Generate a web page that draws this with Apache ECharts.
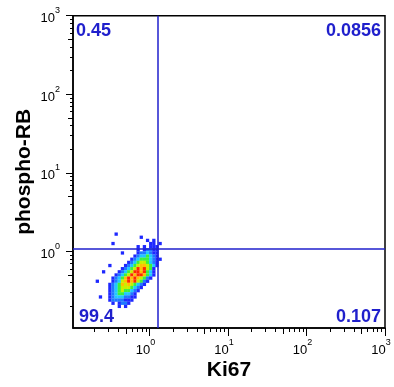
<!DOCTYPE html>
<html>
<head>
<meta charset="utf-8">
<script src="https://cdn.jsdelivr.net/npm/echarts@6/dist/echarts.min.js"></script>
<style>
  html, body { margin: 0; padding: 0; background: #fff; }
  #chart { width: 394px; height: 387px; }
</style>
</head>
<body>
<div id="chart"></div>
<script>
// axis range, in decades (log10 units)
const axisMinLog = -0.975;
const axisMaxLog = 3;
const decades = [0, 1, 2, 3];

// quadrant gates (linear units) and quadrant frequencies
const gateKi67 = 1.28;
const gatePRB = 1.09;
const quadUL = '0.45';
const quadUR = '0.0856';
const quadLL = '99.4';
const quadLR = '0.107';

// density grid: first cell (log Ki67, log pRB) and cell step in decades
const gridOriginX = -0.665;
const gridOriginY = 0.22;
const gridStep = 0.04;
// one string per row, top to bottom; '.' = empty, 1 (sparse) .. 7 (densest)
const densityRows = [
  '......1................',
  '..............1........',
  '................1.1....',
  '.....1...........11.1..',
  '.............1.1.111...',
  '.............1.12211...',
  '........1....1223211...',
  '............12334321...',
  '...........1234443211..',
  '..........1234554321...',
  '....1....12345665431...',
  '........12345767541....',
  '..1....123457767431....',
  '......1234576776431....',
  '.....1234676765421.....',
  '1....123567675421......',
  '....123465654321.......',
  '....12345554321........',
  '....1234544321.........',
  '....123443321..........',
  '.1..123332211..........',
  '....12222111...........',
  '.....1.1221............',
  '.......1.1.............'
];

const densityColors = ['#1e28ff', '#1e78ff', '#1ec8ff', '#3cf03c', '#c8f000', '#ffc000', '#ff2800'];
const gateColor = '#1f1fcc';

const cells = [];
densityRows.forEach((row, r) => {
  for (let c = 0; c < row.length; c++) {
    if (row[c] === '.') continue;
    cells.push([gridOriginX + c * gridStep, gridOriginY - r * gridStep, +row[c]]);
  }
});

// log tick positions: 5s get a medium tick, the other mantissas a short one
const midTicks = [];
const minorTicks = [];
for (let k = -1; k <= 2; k++) {
  [2, 3, 4, 6, 7, 8, 9].forEach(m => {
    const v = k + Math.log10(m);
    if (v >= axisMinLog) minorTicks.push(v);
  });
  const v5 = k + Math.log10(5);
  if (v5 >= axisMinLog) midTicks.push(v5);
}

const labelRich = {
  b: { fontSize: 13, fontFamily: 'Liberation Sans', color: '#000', lineHeight: 19, verticalAlign: 'bottom' },
  s: { fontSize: 9, fontFamily: 'Liberation Sans', color: '#000', lineHeight: 19, verticalAlign: 'top' }
};
const nameStyle = { fontFamily: 'Liberation Sans', fontWeight: 'bold', fontSize: 21, color: '#000' };

function tickAxis(position, values, len) {
  return {
    type: 'value', min: axisMinLog, max: axisMaxLog, position: position,
    axisLine: { show: false, onZero: false },
    splitLine: { show: false },
    axisLabel: { show: false },
    axisTick: { show: true, customValues: values, length: len, lineStyle: { color: '#000', width: 1 } }
  };
}

const chart = echarts.init(document.getElementById('chart'));
chart.setOption({
  animation: false,
  grid: {
    left: 73, right: 9, top: 15.7, bottom: 59,
    show: true, borderColor: '#000', borderWidth: 1.5
  },
  xAxis: [
    {
      type: 'value', min: axisMinLog, max: axisMaxLog, position: 'bottom',
      name: 'Ki67', nameLocation: 'middle', nameGap: 32, nameMoveOverlap: false, nameTextStyle: nameStyle,
      axisLine: { show: true, onZero: false, lineStyle: { color: '#000', width: 1.5 } },
      axisTick: { customValues: decades, length: 8, lineStyle: { color: '#000', width: 1 } },
      axisLabel: {
        customValues: decades, margin: 10, padding: [0, 8, 0, 0],
        formatter: v => '{b|10}{s|' + v + '}', rich: labelRich
      },
      splitLine: { show: false }
    },
    tickAxis('bottom', midTicks, 6),
    tickAxis('bottom', minorTicks, 4)
  ],
  yAxis: [
    {
      type: 'value', min: axisMinLog, max: axisMaxLog, position: 'left',
      name: 'phospho-RB', nameLocation: 'middle', nameGap: 38, nameMoveOverlap: false, nameTextStyle: nameStyle,
      axisLine: { show: true, onZero: false, lineStyle: { color: '#000', width: 1.5 } },
      axisTick: { customValues: decades, length: 7, lineStyle: { color: '#000', width: 1 } },
      axisLabel: {
        customValues: decades, margin: 13,
        formatter: v => '{b|10}{s|' + v + '}', rich: labelRich
      },
      splitLine: { show: false }
    },
    tickAxis('left', midTicks, 5),
    tickAxis('left', minorTicks, 3)
  ],
  series: [
    {
      type: 'scatter',
      data: cells,
      symbol: 'rect',
      symbolSize: 3.3,
      emphasis: { disabled: true },
      itemStyle: { color: p => densityColors[p.value[2] - 1], opacity: 1 },
      markLine: {
        silent: true, symbol: 'none', animation: false,
        label: { show: false },
        emphasis: { disabled: true },
        lineStyle: { color: gateColor, width: 1.5, type: 'solid' },
        data: [{ xAxis: Math.log10(gateKi67) }, { yAxis: Math.log10(gatePRB) }]
      }
    }
  ],
  graphic: [
    { type: 'text', left: 76, top: 22, style: { text: quadUL, font: 'bold 18px "Liberation Sans"', fill: gateColor } },
    { type: 'text', right: 13, top: 22, style: { text: quadUR, font: 'bold 18px "Liberation Sans"', fill: gateColor } },
    { type: 'text', left: 79, top: 308, style: { text: quadLL, font: 'bold 18px "Liberation Sans"', fill: gateColor } },
    { type: 'text', right: 13, top: 308, style: { text: quadLR, font: 'bold 18px "Liberation Sans"', fill: gateColor } }
  ]
});
</script>
</body>
</html>
